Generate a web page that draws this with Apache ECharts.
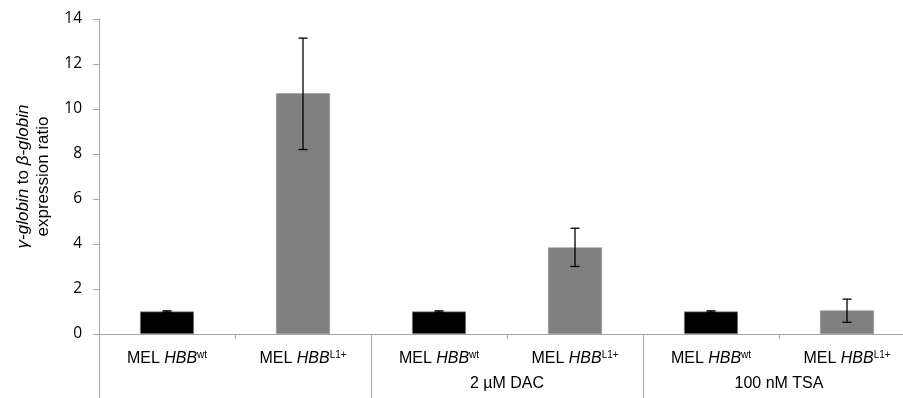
<!DOCTYPE html>
<html>
<head>
<meta charset="utf-8">
<script src="https://cdn.jsdelivr.net/npm/echarts@6/dist/echarts.min.js"></script>
<style>html,body{margin:0;padding:0;background:#fff}#c{width:903px;height:398px}</style>
</head>
<body>
<div id="c"></div>
<script>
var cellNames = ['MEL HBB^wt', 'MEL HBB^L1+', 'MEL HBB^wt', 'MEL HBB^L1+', 'MEL HBB^wt', 'MEL HBB^L1+'];
var groupNames = ['', '2 µM DAC', '100 nM TSA'];
var ratioValues = [1.0, 10.7, 1.0, 3.85, 1.0, 1.05];
var errLow = [0.97, 8.2, 0.97, 3.0, 0.97, 0.52];
var errHigh = [1.03, 13.15, 1.03, 4.7, 1.03, 1.55];
var yTicks = [0, 2, 4, 6, 8, 10, 12, 14];
var barColors = ['#000000', '#808080', '#000000', '#808080', '#000000', '#808080'];

var axisGray = '#a6a6a6';
var chart = echarts.init(document.getElementById('c'));

var errData = cellNames.map(function (c, i) { return [i, errLow[i], errHigh[i]]; });

chart.setOption({
  animation: false,
  backgroundColor: '#ffffff',
  grid: { left: 99, top: 19, bottom: 64, width: 816, containLabel: false, outerBoundsMode: 'none' },
  xAxis: [
    {
      type: 'category',
      data: cellNames,
      axisLine: { lineStyle: { color: axisGray, width: 1 } },
      axisTick: { show: true, interval: 0, length: 5, lineStyle: { color: axisGray } },
      axisLabel: {
        interval: 0,
        margin: 16,
        formatter: function (v) {
          var p = v.split('^');
          var base = p[0].split(' ');
          return '{n|' + base[0] + ' }{i|' + base[1] + '}{s|' + p[1] + '}';
        },
        rich: {
          n: { fontFamily: 'Liberation Sans', fontSize: 16, color: '#000', lineHeight: 18 },
          i: { fontFamily: 'Liberation Sans', fontSize: 16, fontStyle: 'italic', color: '#000', lineHeight: 18 },
          s: { fontFamily: 'Liberation Sans', fontSize: 10, color: '#000', lineHeight: 12, verticalAlign: 'top' }
        }
      }
    },
    {
      type: 'category',
      data: groupNames,
      position: 'bottom',
      axisLine: { show: false },
      axisTick: { show: true, interval: 0, length: 70, lineStyle: { color: axisGray } },
      axisLabel: { interval: 0, margin: 42, fontFamily: 'Liberation Sans', fontSize: 16, color: '#000' },
      splitLine: { show: false }
    }
  ],
  yAxis: {
    type: 'value',
    min: 0,
    max: 14,
    interval: 2,
    splitLine: { show: false },
    axisLine: { show: true, lineStyle: { color: axisGray } },
    axisTick: { show: true, length: 6, lineStyle: { color: axisGray } },
    axisLabel: { margin: 17, fontFamily: 'Open Sans', fontSize: 15.5, color: '#000',
      formatter: function (v) { return yTicks.indexOf(v) >= 0 ? String(v) : ''; } },
    name: '{i|γ-globin} to {i|β-globin}\nexpression ratio',
    nameLocation: 'middle',
    nameRotate: 90,
    nameGap: 44,
    nameTextStyle: {
      fontFamily: 'Liberation Sans', fontSize: 17, color: '#000', lineHeight: 20,
      rich: {
        i: { fontFamily: 'Liberation Sans', fontSize: 17, fontStyle: 'italic', color: '#000', lineHeight: 20 }
      }
    }
  },
  series: [
    {
      type: 'bar',
      xAxisIndex: 0,
      barWidth: 54,
      data: ratioValues.map(function (v, i) {
        return { value: v, itemStyle: { color: barColors[i], borderColor: '#9a9a9a', borderWidth: 0.6 } };
      })
    },
    {
      type: 'custom',
      xAxisIndex: 0,
      data: errData,
      z: 10,
      renderItem: function (params, api) {
        var x = api.value(0);
        var lo = api.coord([x, api.value(1)]);
        var hi = api.coord([x, api.value(2)]);
        var hw = 4.5;
        var st = { stroke: '#000', lineWidth: 1.3 };
        return {
          type: 'group',
          children: [
            { type: 'line', shape: { x1: hi[0], y1: hi[1], x2: lo[0], y2: lo[1] }, style: st },
            { type: 'line', shape: { x1: hi[0] - hw, y1: hi[1], x2: hi[0] + hw, y2: hi[1] }, style: st },
            { type: 'line', shape: { x1: lo[0] - hw, y1: lo[1], x2: lo[0] + hw, y2: lo[1] }, style: st }
          ]
        };
      }
    }
  ]
});
</script>
</body>
</html>
